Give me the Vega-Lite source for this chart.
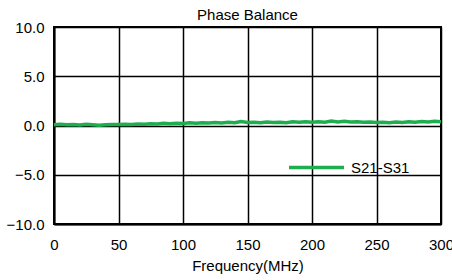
{
  "$schema": "https://vega.github.io/schema/vega-lite/v6.json",
  "autosize": {"type": "none"},
  "width": 387,
  "height": 197,
  "padding": {"left": 54, "top": 27, "right": 11, "bottom": 56},
  "background": "white",
  "title": {"text": "Phase Balance", "font": "Liberation Sans", "fontSize": 15, "fontWeight": "normal", "color": "#000000", "anchor": "middle", "offset": -3},
  "config": {
    "view": {"stroke": "#000000", "strokeWidth": 2},
    "axis": {"labelFont": "Liberation Sans", "titleFont": "Liberation Sans", "labelFontSize": 15, "titleFontSize": 15, "titleFontWeight": "normal", "labelColor": "#000000", "titleColor": "#000000", "gridColor": "#000000", "gridOpacity": 1, "gridWidth": 1.5, "domainColor": "#000000", "domainWidth": 2, "ticks": false}
  },
  "data": {"values": [
    {"f": 0, "v": 0.08, "s": "S21-S31"},
    {"f": 5, "v": 0.12, "s": "S21-S31"},
    {"f": 10, "v": 0.07, "s": "S21-S31"},
    {"f": 15, "v": 0.1, "s": "S21-S31"},
    {"f": 20, "v": 0.05, "s": "S21-S31"},
    {"f": 25, "v": 0.13, "s": "S21-S31"},
    {"f": 30, "v": 0.08, "s": "S21-S31"},
    {"f": 35, "v": 0.02, "s": "S21-S31"},
    {"f": 40, "v": 0.07, "s": "S21-S31"},
    {"f": 45, "v": 0.1, "s": "S21-S31"},
    {"f": 50, "v": 0.09, "s": "S21-S31"},
    {"f": 55, "v": 0.12, "s": "S21-S31"},
    {"f": 60, "v": 0.1, "s": "S21-S31"},
    {"f": 65, "v": 0.14, "s": "S21-S31"},
    {"f": 70, "v": 0.12, "s": "S21-S31"},
    {"f": 75, "v": 0.18, "s": "S21-S31"},
    {"f": 80, "v": 0.15, "s": "S21-S31"},
    {"f": 85, "v": 0.22, "s": "S21-S31"},
    {"f": 90, "v": 0.19, "s": "S21-S31"},
    {"f": 95, "v": 0.24, "s": "S21-S31"},
    {"f": 100, "v": 0.21, "s": "S21-S31"},
    {"f": 105, "v": 0.27, "s": "S21-S31"},
    {"f": 110, "v": 0.23, "s": "S21-S31"},
    {"f": 115, "v": 0.28, "s": "S21-S31"},
    {"f": 120, "v": 0.25, "s": "S21-S31"},
    {"f": 125, "v": 0.3, "s": "S21-S31"},
    {"f": 130, "v": 0.26, "s": "S21-S31"},
    {"f": 135, "v": 0.33, "s": "S21-S31"},
    {"f": 140, "v": 0.28, "s": "S21-S31"},
    {"f": 145, "v": 0.4, "s": "S21-S31"},
    {"f": 150, "v": 0.3, "s": "S21-S31"},
    {"f": 155, "v": 0.34, "s": "S21-S31"},
    {"f": 160, "v": 0.29, "s": "S21-S31"},
    {"f": 165, "v": 0.36, "s": "S21-S31"},
    {"f": 170, "v": 0.31, "s": "S21-S31"},
    {"f": 175, "v": 0.33, "s": "S21-S31"},
    {"f": 180, "v": 0.28, "s": "S21-S31"},
    {"f": 185, "v": 0.37, "s": "S21-S31"},
    {"f": 190, "v": 0.32, "s": "S21-S31"},
    {"f": 195, "v": 0.38, "s": "S21-S31"},
    {"f": 200, "v": 0.33, "s": "S21-S31"},
    {"f": 205, "v": 0.39, "s": "S21-S31"},
    {"f": 210, "v": 0.34, "s": "S21-S31"},
    {"f": 215, "v": 0.45, "s": "S21-S31"},
    {"f": 220, "v": 0.36, "s": "S21-S31"},
    {"f": 225, "v": 0.42, "s": "S21-S31"},
    {"f": 230, "v": 0.35, "s": "S21-S31"},
    {"f": 235, "v": 0.38, "s": "S21-S31"},
    {"f": 240, "v": 0.33, "s": "S21-S31"},
    {"f": 245, "v": 0.36, "s": "S21-S31"},
    {"f": 250, "v": 0.31, "s": "S21-S31"},
    {"f": 255, "v": 0.34, "s": "S21-S31"},
    {"f": 260, "v": 0.29, "s": "S21-S31"},
    {"f": 265, "v": 0.35, "s": "S21-S31"},
    {"f": 270, "v": 0.3, "s": "S21-S31"},
    {"f": 275, "v": 0.38, "s": "S21-S31"},
    {"f": 280, "v": 0.33, "s": "S21-S31"},
    {"f": 285, "v": 0.4, "s": "S21-S31"},
    {"f": 290, "v": 0.35, "s": "S21-S31"},
    {"f": 295, "v": 0.42, "s": "S21-S31"},
    {"f": 300, "v": 0.37, "s": "S21-S31"}
  ]},
  "mark": {"type": "line", "strokeWidth": 3.5, "interpolate": "linear"},
  "encoding": {
    "x": {"field": "f", "type": "quantitative", "scale": {"domain": [0, 300], "nice": false}, "axis": {"values": [0, 50, 100, 150, 200, 250, 300], "title": "Frequency(MHz)", "labelPadding": 13, "titlePadding": 6, "labelFlush": false}},
    "y": {"field": "v", "type": "quantitative", "scale": {"domain": [-10, 10], "nice": false}, "axis": {"values": [-10, -5, 0, 5, 10], "format": ".1f", "title": null, "labelPadding": 10, "labelFlush": false}},
    "color": {"field": "s", "type": "nominal", "scale": {"range": ["#1fae4f"]}, "legend": {"title": null, "orient": "none", "legendX": 233, "legendY": 111, "symbolType": "stroke", "symbolSize": 3025, "symbolStrokeWidth": 3.5, "labelFont": "Liberation Sans", "labelFontSize": 15, "labelColor": "#000000", "labelOffset": 5, "padding": 0}}
  }
}
